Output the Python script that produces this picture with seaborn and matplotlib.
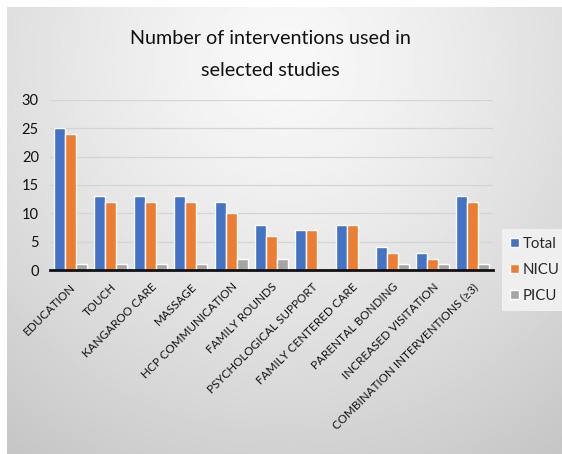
import numpy as np
import pandas as pd
import matplotlib
matplotlib.use("Agg")
import matplotlib.pyplot as plt
import seaborn as sns

categories = [
    "EDUCATION", "TOUCH", "KANGAROO CARE", "MASSAGE", "HCP COMMUNICATION",
    "FAMILY ROUNDS", "PSYCHOLOGICAL SUPPORT", "FAMILY CENTERED CARE",
    "PARENTAL BONDING", "INCREASED VISITATION", "COMBINATION INTERVENTIONS (\u22653)",
]
total = [25, 13, 13, 13, 12, 8, 7, 8, 4, 3, 13]
nicu = [24, 12, 12, 12, 10, 6, 7, 8, 3, 2, 12]
picu = [1, 1, 1, 1, 2, 2, 0, 0, 1, 1, 1]
series = ["Total", "NICU", "PICU"]
colors = ["#4472C4", "#ED7D31", "#A5A5A5"]
yticks = [0, 5, 10, 15, 20, 25, 30]

df = pd.DataFrame({
    "category": categories * 3,
    "count": total + nicu + picu,
    "series": np.repeat(series, len(categories)),
})

sns.set_theme(style="white")
plt.rcParams["font.family"] = ["Lato", "DejaVu Sans"]

W, H = 562, 454
fig = plt.figure(figsize=(W / 100, H / 100), dpi=100)
fig.patch.set_facecolor("white")

# shaded panel behind the chart
bg = fig.add_axes([7 / W, 0, 1 - 7 / W, 1 - 7 / H], zorder=-5)
yy, xx = np.mgrid[0:1:300j, 0:1:300j]
r = np.sqrt(((xx - 0.5) / 0.75) ** 2 + ((yy - 0.12) / 0.95) ** 2)
shade = 0.975 - 0.17 * np.clip(r, 0, 1.2) ** 1.3
bg.imshow(shade, cmap="gray", vmin=0, vmax=1, aspect="auto",
          extent=[0, 1, 1, 0], interpolation="bilinear")
bg.set_axis_off()

ax = fig.add_axes([50 / W, 1 - 270 / H, 443 / W, 170 / H])
ax.set_facecolor("none")
sns.barplot(data=df, x="category", y="count", hue="series",
            palette=colors, width=0.82, gap=0, saturation=1,
            ax=ax, legend=True)

ax.set_ylim(0, 30)
ax.set_xlim(-0.5, len(categories) - 0.5)
ax.set_yticks(yticks)
ax.set_yticklabels([str(v) for v in yticks], fontsize=10.5, color="#111111")
ax.yaxis.grid(True, color="#d4d4d4", linewidth=0.9)
ax.set_axisbelow(True)
ax.set_xlabel("")
ax.set_ylabel("")
for s in ["top", "right", "left"]:
    ax.spines[s].set_visible(False)
ax.spines["bottom"].set_color("#111111")
ax.spines["bottom"].set_linewidth(2)
ax.tick_params(axis="y", length=0, pad=8)
ax.tick_params(axis="x", length=0, pad=8)
ax.set_xticks(range(len(categories)))
ax.set_xticklabels(categories, rotation=45, ha="right",
                   rotation_mode="anchor", fontsize=8.4, color="#111111")

handles, labels = ax.get_legend_handles_labels()
leg = ax.legend(handles, labels, loc="center left",
                bbox_to_anchor=(502 / W, 1 - 270 / H),
                bbox_transform=fig.transFigure, borderaxespad=0,
                frameon=True, fontsize=10.8, handlelength=0.6,
                handleheight=0.6, handletextpad=0.25, labelspacing=0.8,
                borderpad=0.55, fancybox=False)
leg.get_frame().set_facecolor("#f2f2f2")
leg.get_frame().set_edgecolor("none")
leg.get_frame().set_alpha(0.9)

fig.text(270 / W, 1 - 38 / H, "Number of interventions used in",
         ha="center", va="center", fontsize=14.2, color="#111111")
fig.text(270 / W, 1 - 70 / H, "selected studies",
         ha="center", va="center", fontsize=14.2, color="#111111")

fig.savefig("out.png", dpi=100)
